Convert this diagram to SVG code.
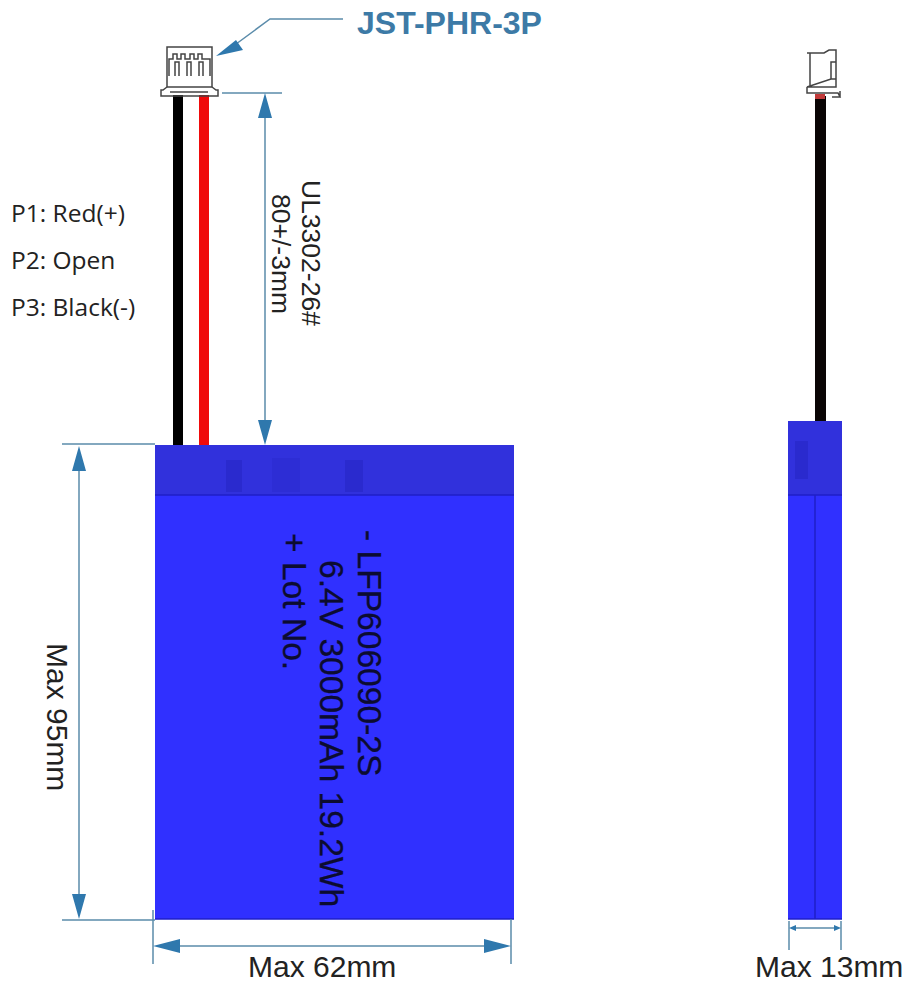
<svg xmlns="http://www.w3.org/2000/svg" width="904" height="984" viewBox="0 0 904 984">
<style>
text{font-family:"Liberation Sans",Arial,sans-serif;fill:#222}
.dim{stroke:#5b8cab;stroke-width:1.5;fill:none}
.hd{fill:#2f78ad}
.con{fill:none;stroke:#444;stroke-width:1.5}
.body{fill:#3030ff}
.tab{fill:#3131dc}
.sh{fill:#2a2ace}
.seam{stroke:#1f1fc8;stroke-width:1.5;fill:none}
.pin{font-family:"Open Sans","Noto Sans",sans-serif;font-size:24.5px}
.wire{font-size:26.5px}
.size{font-size:30px}
.cell{font-size:33.6px;fill:#0c0c30;stroke:#0c0c30;stroke-width:.3}
</style>
<rect width="904" height="984" fill="#fff"/>
<g id="wires-front">
<rect x="173" y="95" width="10" height="350" fill="#000"/>
<rect x="199" y="95" width="10" height="350" fill="#f00a0a"/>
</g>
<g id="connector-front">
<path class="con" d="M167 47H212V87H167Z"/>
<path class="con" d="M169 76V59H173V54H177V59H181V54H185V59H190V54H194V59H198V54H202V59H210V76M175 76V62H179V76M187 76V62H191V76M199 76V62H203V76"/>
<path class="con" d="M167 87L163 90H161V96H218V90H216L212 87M170 92H208"/>
</g>
<g id="battery-front">
<rect class="body" x="155" y="445" width="359" height="474"/>
<rect class="tab" x="155" y="445" width="359" height="50"/>
<rect class="sh" x="226" y="460" width="16" height="32"/>
<rect class="sh" x="345" y="460" width="18" height="32"/>
<rect class="sh" x="272" y="458" width="28" height="34" opacity=".5"/>
<path class="seam" d="M155 495H514M155 919H514"/>
<text class="cell" transform="translate(358 530) rotate(90)">- LFP606090-2S</text>
<text class="cell" transform="translate(320 560) rotate(90)">6.4V 3000mAh 19.2Wh</text>
<text class="cell" transform="translate(283 533) rotate(90)">+ Lot No.</text>
</g>
<g id="wire-side">
<rect x="815" y="96" width="11" height="325" fill="#0a0505"/>
<rect x="815" y="94" width="10" height="5" fill="#c23a3a"/>
</g>
<g id="connector-side">
<path class="con" d="M807 53H824L829 50H836V62H831V79H836V62M831 79H836V87H807ZM810 53V87M807 87V93H838L840 97H832M840 91V97"/>
</g>
<g id="battery-side">
<rect class="body" x="788" y="421" width="54" height="498"/>
<rect class="tab" x="788" y="421" width="54" height="74"/>
<rect class="sh" x="795" y="441" width="13" height="38"/>
<path class="seam" d="M788 495H842M815 495V919M788 919H842"/>
</g>
<g id="callout">
<path class="dim" d="M343 19H270L232 47"/>
<path class="hd" d="M216 56L236 40L243 50Z"/>
<text x="357" y="34" font-size="32" font-weight="700" style="fill:#3d7aa6">JST-PHR-3P</text>
</g>
<g id="labels">
<text class="pin" x="11" y="222">P1: Red(+)</text>
<text class="pin" x="11" y="269">P2: Open</text>
<text class="pin" x="11" y="316">P3: Black(-)</text>
<text class="wire" transform="translate(302 180) rotate(90)">UL3302-26#</text>
<text class="wire" transform="translate(272 194) rotate(90)">80+/-3mm</text>
<text class="size" transform="translate(47 643) rotate(90)">Max 95mm</text>
<text class="size" x="248" y="977">Max 62mm</text>
<text class="size" x="755" y="977">Max 13mm</text>
</g>
<g id="connectors">
<path class="dim" d="M222 93H282M265 118V420"/>
<path class="hd" d="M265 93L258 118H272ZM265 445L258 420H272Z"/>
<path class="dim" d="M62 444H155M62 920H155M79 470V895"/>
<path class="hd" d="M79 446L72 471H86ZM79 919L72 894H86Z"/>
<path class="dim" d="M153 910V964M511 919V964M180 946H486"/>
<path class="hd" d="M153 946L180 939V953ZM511 946L484 939V953Z"/>
<path class="dim" d="M789 921V950M841 921V950M794 928H836"/>
<path class="hd" d="M789 928L796 925V931ZM841 928L834 925V931Z"/>
</g>
</svg>
